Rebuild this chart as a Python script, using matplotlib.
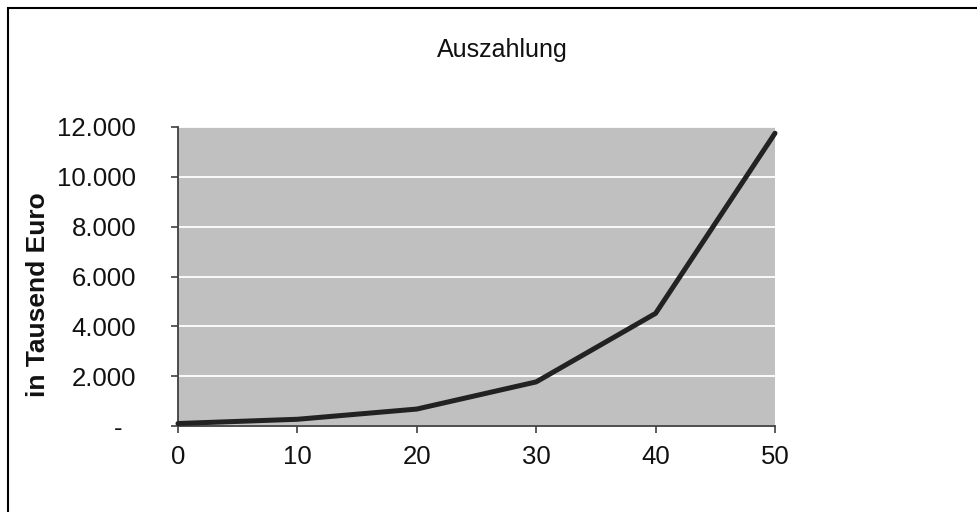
import matplotlib
matplotlib.use("Agg")
import matplotlib.pyplot as plt
from matplotlib.patches import Rectangle
from matplotlib.ticker import FuncFormatter

years = [0, 10, 20, 30, 40, 50]
payout = [100, 270, 680, 1770, 4520, 11750]
y_ticks = [0, 2000, 4000, 6000, 8000, 10000, 12000]
x_ticks = [0, 10, 20, 30, 40, 50]

plt.rcParams['font.family'] = ['Liberation Sans', 'DejaVu Sans']

W, H = 977, 512
fig = plt.figure(figsize=(W / 100, H / 100), dpi=100)
ax = fig.add_axes([178 / W, (H - 426) / H, (775 - 178) / W, (426 - 127) / H])
ax.set_facecolor('#c0c0c0')

ax.plot(years, payout, color='#222222', lw=3.6, solid_capstyle='round', zorder=3, clip_on=False)

ax.set_xlim(0, 50)
ax.set_ylim(0, 12000)
ax.set_xticks(x_ticks)
ax.set_yticks(y_ticks)

def fmt(v, pos):
    if v == 0:
        return '-  '
    return f"{int(v):,}".replace(',', '.')

ax.yaxis.set_major_formatter(FuncFormatter(fmt))
ax.grid(axis='y', color='white', lw=1.3)
ax.set_axisbelow(True)
for s in ['top', 'right']:
    ax.spines[s].set_visible(False)
for s in ['left', 'bottom']:
    ax.spines[s].set_color('#404040')
    ax.spines[s].set_linewidth(1.3)
ax.tick_params(axis='both', direction='out', length=5, width=1.2, color='#404040',
               labelsize=18.5, labelcolor='#111111')
ax.tick_params(axis='y', pad=25)
ax.tick_params(axis='x', pad=9)

fig.text(502 / W, 1 - 50 / H, 'Auszahlung', ha='center', va='center', fontsize=18, color='#111111')
fig.text(38 / W, 1 - 295 / H, 'in Tausend Euro', rotation=90, ha='center', va='center',
         fontsize=19, fontweight='bold', color='#111111')

fig.add_artist(Rectangle((8 / W, -0.5), 2, (1 - 8 / H) + 0.5, transform=fig.transFigure,
                         fill=False, edgecolor='black', lw=1.5))

fig.savefig('out.png', dpi=100)
